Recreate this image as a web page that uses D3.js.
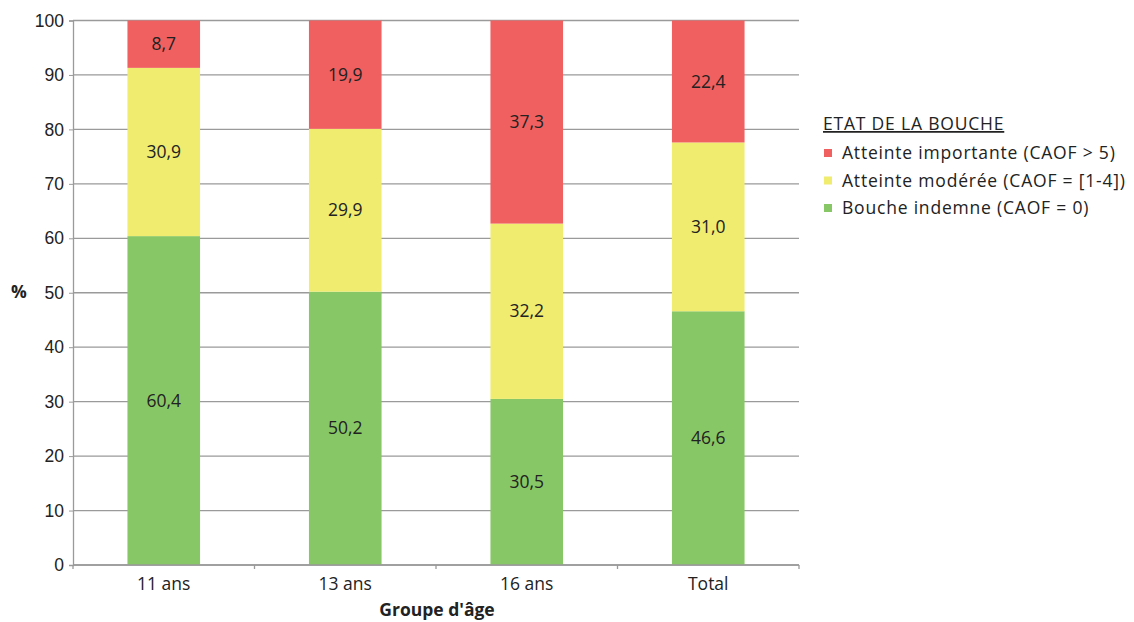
<!DOCTYPE html>
<html><head><meta charset="utf-8">
<script src="https://cdn.jsdelivr.net/npm/d3@7"></script>
<style>body{margin:0;background:#fff}svg{font-family:"Open Sans",sans-serif}</style>
</head><body><svg id="c" width="1134" height="622"></svg>
<script>
const categories = ["11 ans", "13 ans", "16 ans", "Total"];
const seriesNames = ["Bouche indemne (CAOF = 0)", "Atteinte modérée (CAOF = [1-4])", "Atteinte importante (CAOF > 5)"];
const indemne = [60.4, 50.2, 30.5, 46.6];
const moderee = [30.9, 29.9, 32.2, 31.0];
const importante = [8.7, 19.9, 37.3, 22.4];
const yTicks = [0, 10, 20, 30, 40, 50, 60, 70, 80, 90, 100];
const colors = ["#88c766", "#f0ec70", "#f06060"];

const FS = 17.5;
const svg = d3.select("#c");
const m = {l: 73, r: 335, t: 20.5, b: 57};
const W = 1134, H = 622;
const x = d3.scaleBand().domain(categories).range([m.l, W - m.r]).paddingInner(0.6).paddingOuter(0.3);
const y = d3.scaleLinear().domain([0, 100]).range([H - m.b, m.t]);

// horizontal gridlines
svg.append("g").selectAll("line").data(yTicks).join("line")
  .attr("x1", m.l).attr("x2", W - m.r)
  .attr("y1", d => y(d)).attr("y2", d => y(d))
  .attr("stroke", "#9a9a9a").attr("stroke-width", 1.3);

// y axis
const ya = svg.append("g").attr("transform", `translate(${m.l},0)`)
  .call(d3.axisLeft(y).tickValues(yTicks).tickSize(4).tickPadding(5));
ya.select(".domain").attr("stroke", "#9a9a9a").attr("stroke-width", 1.3);
ya.selectAll(".tick line").attr("stroke", "#9a9a9a");
ya.selectAll("text").attr("font-size", FS).attr("fill", "#222");

// stacked bars
const rows = categories.map((c, i) => ({cat: c, v: [indemne[i], moderee[i], importante[i]]}));
rows.forEach(r => {
  let base = 0;
  r.v.forEach((v, k) => {
    const y0 = base, y1 = base + v;
    svg.append("rect")
      .attr("x", x(r.cat)).attr("width", x.bandwidth())
      .attr("y", y(Math.min(y1, 100))).attr("height", y(y0) - y(Math.min(y1, 100)))
      .attr("fill", colors[k]);
    svg.append("text")
      .attr("x", x(r.cat) + x.bandwidth() / 2).attr("y", (y(y0) + y(Math.min(y1, 100))) / 2)
      .attr("dy", "0.35em").attr("text-anchor", "middle")
      .attr("font-size", FS).attr("fill", "#222")
      .text(d3.format(".1f")(v).replace(".", ","));
    base = y1;
  });
});

// x axis
const xa = svg.append("g").attr("transform", `translate(0,${H - m.b})`);
xa.append("line").attr("x1", m.l).attr("x2", W - m.r).attr("stroke", "#9a9a9a").attr("stroke-width", 1.3);
const bounds = d3.range(categories.length + 1).map(i => m.l + i * (W - m.l - m.r) / categories.length);
xa.selectAll(".tb").data(bounds).join("line").attr("class", "tb")
  .attr("x1", d => d).attr("x2", d => d).attr("y1", 0).attr("y2", 4)
  .attr("stroke", "#9a9a9a").attr("stroke-width", 1.3);
xa.selectAll(".tl").data(categories).join("text").attr("class", "tl")
  .attr("x", d => x(d) + x.bandwidth() / 2).attr("y", 25)
  .attr("text-anchor", "middle").attr("font-size", FS).attr("fill", "#222").text(d => d);

// axis titles
svg.append("text").attr("x", 19).attr("y", 298).attr("text-anchor", "middle")
  .attr("font-size", FS).attr("font-weight", "bold").attr("fill", "#222").text("%");
svg.append("text").attr("x", 437).attr("y", 616).attr("text-anchor", "middle")
  .attr("font-size", FS).attr("font-weight", "bold").attr("fill", "#222").text("Groupe d'âge");

// legend
const lg = svg.append("g").attr("transform", "translate(823,0)").attr("letter-spacing", 0.8);
lg.append("text").attr("x", 0).attr("y", 130).attr("font-size", FS).attr("fill", "#222")
  .attr("text-decoration", "underline").text("ETAT DE LA BOUCHE");
const legendOrder = [2, 1, 0];
legendOrder.forEach((k, i) => {
  const cy = 153 + i * 27.5;
  lg.append("rect").attr("x", 1).attr("y", cy - 4).attr("width", 8).attr("height", 8).attr("fill", colors[k]);
  lg.append("text").attr("x", 19).attr("y", cy).attr("dy", "0.35em")
    .attr("font-size", FS).attr("fill", "#222").text(seriesNames[k]);
});
</script></body></html>
